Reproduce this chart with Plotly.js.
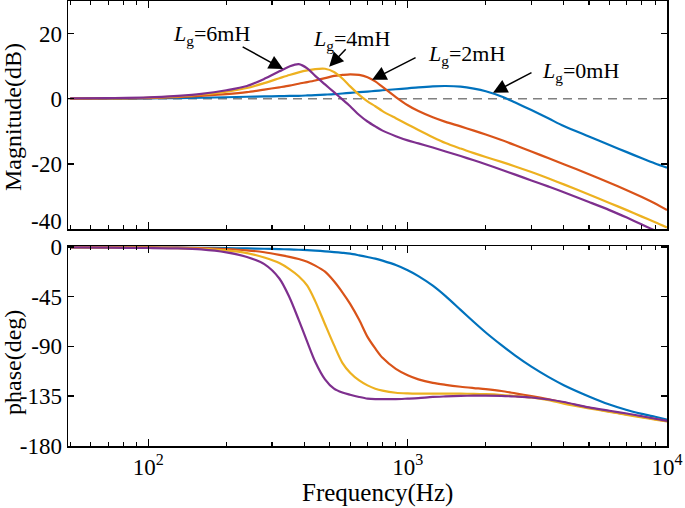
<!DOCTYPE html>
<html><head><meta charset="utf-8">
<script src="https://cdn.plot.ly/plotly-3.0.1.min.js"></script>
<style>html,body{margin:0;padding:0;background:#fff}#chart{width:685px;height:508px}</style>
</head><body><div id="chart"></div>
<script>
// Frequency grid (Hz)
const freq = [50, 70, 100, 130, 160, 200, 240, 280, 320, 350, 380, 410, 440, 480, 520, 560, 600, 650, 700, 750, 800, 900, 1000, 1100, 1250, 1400, 1600, 1800, 2000, 2300, 2600, 3000, 3500, 4000, 5000, 6000, 7000, 8000, 9000, 10000];
// Magnitude (dB)
const mag0 = [0, 0.02, 0.1, 0.2, 0.3, 0.45, 0.6, 0.7, 0.8, 0.85, 0.9, 1.0, 1.1, 1.25, 1.4, 1.6, 1.8, 2.0, 2.2, 2.4, 2.6, 2.9, 3.2, 3.5, 3.8, 3.9, 3.7, 3.1, 2.3, 0.7, -1.2, -3.5, -6.1, -8.4, -11.6, -14.2, -16.4, -18.3, -19.9, -21.2];
const mag2 = [0.05, 0.1, 0.2, 0.5, 0.9, 1.4, 2.0, 2.8, 3.5, 4.0, 4.6, 5.1, 5.6, 6.3, 7.0, 7.3, 7.5, 7.3, 6.6, 5.3, 3.6, 0.5, -2.0, -3.8, -5.7, -7.1, -8.5, -9.8, -11.0, -12.7, -14.3, -16.2, -18.3, -20.1, -23.2, -25.8, -28.1, -30.2, -32.2, -34.2];
const mag4 = [0.1, 0.15, 0.3, 0.7, 1.3, 2.2, 3.3, 4.8, 6.3, 7.3, 8.1, 8.7, 9.1, 9.2, 8.2, 6.2, 3.8, 1.2, -0.8, -2.3, -3.8, -6.0, -7.9, -9.6, -11.8, -13.6, -15.3, -16.7, -17.9, -19.4, -20.8, -22.5, -24.5, -26.3, -29.4, -32.0, -34.2, -36.2, -37.9, -39.5];
const mag6 = [0.1, 0.2, 0.4, 0.9, 1.5, 2.6, 3.9, 6.1, 8.4, 9.9, 10.6, 9.3, 7.0, 4.4, 2.0, -0.2, -2.3, -5.0, -7.0, -8.5, -9.8, -11.5, -12.8, -13.7, -15.0, -16.2, -17.6, -18.9, -20.1, -21.8, -23.3, -25.1, -27.0, -28.7, -31.7, -34.2, -36.5, -38.6, -40.5, -42.3];
// Phase (deg)
const ph0 = [-0.1, -0.2, -0.3, -0.5, -0.7, -0.9, -1.2, -1.5, -1.8, -2.1, -2.4, -2.8, -3.2, -3.8, -4.5, -5.2, -6.0, -7.5, -9.0, -10.4, -12.3, -16.3, -21, -26.3, -35, -44.5, -57, -68, -77.5, -89, -98.5, -108.5, -118, -125.3, -135.5, -142.8, -147.8, -151.3, -154, -156.5];
const ph2 = [-0.1, -0.2, -0.3, -0.5, -0.9, -1.7, -2.9, -4.7, -7, -8.8, -10.8, -13.3, -16.8, -22.3, -31, -41, -51.5, -66, -81.5, -92, -100.5, -110.5, -116.3, -120, -123.2, -125, -126.7, -127.9, -128.9, -130.6, -132.7, -135.2, -138.2, -141, -145.8, -149.2, -151.8, -154, -156.1, -158];
const ph4 = [-0.2, -0.4, -0.6, -1.0, -1.5, -3.0, -5.5, -9.5, -14.5, -20, -26.5, -35, -49, -70, -89, -105, -114, -121, -125.5, -128.5, -130.3, -132.2, -132.8, -133, -133, -133, -133, -133.2, -133.5, -134.2, -135.2, -136.5, -139, -142, -146.3, -149.5, -152.2, -154.5, -156.5, -158.3];
const ph6 = [-0.3, -0.5, -0.8, -1.2, -2.1, -4.8, -9.0, -15.5, -28.5, -45.5, -66, -86, -104, -120, -128.5, -132, -134, -136, -137.5, -138, -138, -138, -137.5, -137, -136, -135.5, -135, -134.8, -134.7, -135, -135.6, -136.5, -138.3, -140.6, -145.5, -148.5, -151, -153.5, -155.8, -157.8];

const seriesNames = ['Lg=0mH', 'Lg=2mH', 'Lg=4mH', 'Lg=6mH'];
const seriesLabels = ['<i>L</i><sub>g</sub>=0mH', '<i>L</i><sub>g</sub>=2mH', '<i>L</i><sub>g</sub>=4mH', '<i>L</i><sub>g</sub>=6mH'];
const colors = ['#0072BD', '#D95319', '#EDB120', '#7E2F8E'];
const mags = [mag0, mag2, mag4, mag6];
const phases = [ph0, ph2, ph4, ph6];
// arrow targets (frequency Hz, magnitude dB) and label centres
const arrowFreq = [2133, 729, 498, 331];
const arrowMag = [1.8, 5.8, 9.8, 9.1];
const arrowOff = [[40, -21], [45, -23], [18, -19], [-42, -23]];
const labelPos = [[580, 72], [466, 55], [351, 40], [211, 35]];

const xRange = [Math.log10(49), 4];
const minorVals = [];
[10, 100, 1000].forEach(d => { for (let k = 2; k <= 9; k++) minorVals.push(k * d); });

const FONT = 'Liberation Serif, Times New Roman, serif';
const L = 68, R = 18, T = 1, B = 62, W = 685, H = 508;
const pw = W - L - R, ph = H - T - B;
const px2x = p => (p - L) / pw;
const py2y = p => (H - B - p) / ph;

const traces = [];
traces.push({x: [49, 10000], y: [0, 0], xaxis: 'x', yaxis: 'y', mode: 'lines',
  line: {color: '#808080', width: 1.6, dash: '9px,6px'}, hoverinfo: 'skip', showlegend: false});
for (let i = 0; i < 4; i++) {
  traces.push({x: freq, y: mags[i], xaxis: 'x', yaxis: 'y', mode: 'lines', name: seriesNames[i],
    line: {color: colors[i], width: 2.2, shape: 'spline', smoothing: 0.8}, showlegend: false});
}
for (let i = 0; i < 4; i++) {
  traces.push({x: freq, y: phases[i], xaxis: 'x2', yaxis: 'y2', mode: 'lines', name: seriesNames[i],
    line: {color: colors[i], width: 2.2, shape: 'spline', smoothing: 0.8}, showlegend: false});
}

const TICK = 23;
const axBase = {
  type: 'log', range: xRange, showgrid: false, zeroline: false,
  showline: true, linecolor: '#000', linewidth: 1.5, mirror: 'ticks',
  ticks: 'inside', ticklen: 7, tickwidth: 1.3, tickcolor: '#000',
  tickmode: 'array', tickvals: [100, 1000, 10000],
  minor: {tickmode: 'array', tickvals: minorVals, ticks: 'inside', ticklen: 4, tickwidth: 1.2, tickcolor: '#000'},
  tickfont: {family: FONT, size: TICK, color: '#000'}
};
const yBase = {
  showgrid: false, zeroline: false, showline: true, linecolor: '#000', linewidth: 1.5, mirror: 'ticks',
  ticks: 'inside', ticklen: 6, tickwidth: 1.3, tickcolor: '#000', tickmode: 'array',
  tickfont: {family: FONT, size: TICK, color: '#000'}
};

const annotations = [];
annotations.push({xref: 'paper', yref: 'paper', x: px2x(13), y: py2y(117), text: 'Magnitude(dB)', textangle: -90,
  showarrow: false, xanchor: 'center', yanchor: 'middle', borderpad: 0, font: {family: FONT, size: 24, color: '#000'}});
annotations.push({xref: 'paper', yref: 'paper', x: px2x(13), y: py2y(363), text: 'phase(deg)', textangle: -90,
  showarrow: false, xanchor: 'center', yanchor: 'middle', borderpad: 0, font: {family: FONT, size: 24, color: '#000'}});
annotations.push({xref: 'paper', yref: 'paper', x: px2x(377), y: py2y(493), text: 'Frequency(Hz)',
  showarrow: false, xanchor: 'center', yanchor: 'middle', font: {family: FONT, size: 25, color: '#000'}});
// lowest magnitude tick label, drawn slightly raised as in the reference
annotations.push({xref: 'paper', yref: 'paper', x: px2x(64), y: py2y(221), text: '-40',
  showarrow: false, xanchor: 'right', yanchor: 'middle', font: {family: FONT, size: TICK, color: '#000'}});
for (let i = 0; i < 4; i++) {
  annotations.push({xref: 'paper', yref: 'paper', x: px2x(labelPos[i][0]), y: py2y(labelPos[i][1]), text: seriesLabels[i],
    showarrow: false, xanchor: 'center', yanchor: 'middle', font: {family: FONT, size: 22, color: '#000'}});
  annotations.push({xref: 'x', yref: 'y', x: Math.log10(arrowFreq[i]), y: arrowMag[i], text: '',
    showarrow: true, ax: arrowOff[i][0], ay: arrowOff[i][1], arrowhead: 2, arrowsize: 1.9, arrowwidth: 1.5,
    arrowcolor: '#000', standoff: 0, startstandoff: 0});
}

const layout = {
  width: W, height: H, margin: {l: L, r: R, t: T, b: B},
  paper_bgcolor: '#fff', plot_bgcolor: '#fff', showlegend: false,
  xaxis: Object.assign({}, axBase, {domain: [0, 1], anchor: 'y', showticklabels: false}),
  xaxis2: Object.assign({}, axBase, {domain: [0, 1], anchor: 'y2',
    ticktext: ['10<sup>2</sup>', '10<sup>3</sup>', '10<sup>4</sup>']}),
  yaxis: Object.assign({}, yBase, {domain: [py2y(229), 1], anchor: 'x', range: [-40, 30],
    tickvals: [-40, -20, 0, 20], ticktext: ['', '-20', '0', '20']}),
  yaxis2: Object.assign({}, yBase, {domain: [0, py2y(246)], anchor: 'x2', range: [-180.5, 1],
    tickvals: [-180, -135, -90, -45, 0], ticktext: ['-180', '-135', '-90', '-45', '0']}),
  annotations: annotations
};

Plotly.newPlot('chart', traces, layout, {staticPlot: true, displayModeBar: false});
</script></body></html>
